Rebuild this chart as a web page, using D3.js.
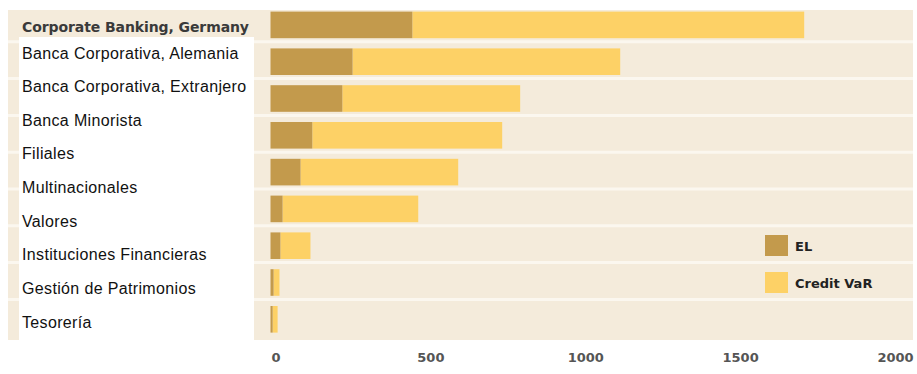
<!DOCTYPE html>
<html>
<head>
<meta charset="utf-8">
<script src="https://cdn.jsdelivr.net/npm/d3@7"></script>
<style>
  body { margin: 0; background: #fff; }
  svg { display: block; }
</style>
</head>
<body>
<svg id="canvas" width="917" height="374"></svg>
<script>
// bar rows (top to bottom), values in EUR m
let rows = [0, 1, 2, 3, 4, 5, 6, 7, 8]
let elValues = [458, 265, 232, 135, 97, 39, 32, 10, 7]
let varValues = [1265, 864, 574, 613, 509, 438, 97, 19, 16]
let seriesNames = ['EL', 'Credit VaR']
let titleLabel = 'Corporate Banking, Germany'
let labels = ['Banca Corporativa, Alemania', 'Banca Corporativa, Extranjero', 'Banca Minorista',
  'Filiales', 'Multinacionales', 'Valores', 'Instituciones Financieras',
  'Gestión de Patrimonios', 'Tesorería']
let tickValues = [0, 500, 1000, 1500, 2000]

let canvas = d3.select('#canvas')

let colors = { EL: '#c39a4c', 'Credit VaR': '#fdd166' }

let x = d3.scaleLinear().domain([0, 2000]).range([270.5, 890])
let y = d3.scaleBand().domain(rows).range([6.5, 337.7]).paddingInner(0).paddingOuter(0)

// beige panel
canvas.append('rect')
  .attr('x', 8).attr('y', 10).attr('width', 905).attr('height', 330)
  .attr('fill', '#f4ebdb')

// white separators between rows
canvas.selectAll('line.sep')
  .data(rows.slice(1))
  .enter()
  .append('line')
  .attr('class', 'sep')
  .attr('x1', 8).attr('x2', 913)
  .attr('y1', d => y(d) - 1.5).attr('y2', d => y(d) - 1.5)
  .attr('stroke', '#fbf7ef')
  .attr('stroke-width', 3)

let barH = 26.6
let barY = d => y(d) + (y.bandwidth() - barH) / 2

// Credit VaR stacked after EL
canvas.selectAll('rect.var')
  .data(rows)
  .enter()
  .append('rect')
  .attr('class', 'var')
  .attr('x', d => x(elValues[d]))
  .attr('y', barY)
  .attr('width', d => x(elValues[d] + varValues[d]) - x(elValues[d]))
  .attr('height', barH)
  .attr('fill', colors['Credit VaR'])

canvas.selectAll('rect.el')
  .data(rows)
  .enter()
  .append('rect')
  .attr('class', 'el')
  .attr('x', x(0))
  .attr('y', barY)
  .attr('width', d => x(elValues[d]) - x(0))
  .attr('height', barH)
  .attr('fill', colors.EL)

// original row label
canvas.append('text')
  .attr('x', 22).attr('y', 32)
  .attr('font-family', 'DejaVu Sans')
  .attr('font-size', 14)
  .attr('font-weight', 'bold')
  .attr('textLength', 227)
  .attr('fill', '#3a3a3a')
  .text(titleLabel)

// white label box
canvas.append('rect')
  .attr('x', 19).attr('y', 37).attr('width', 235).attr('height', 303)
  .attr('fill', '#fff')

let ly = d3.scalePoint().domain(labels).range([53, 322])

canvas.selectAll('text.lab')
  .data(labels)
  .enter()
  .append('text')
  .attr('class', 'lab')
  .attr('x', 22)
  .attr('y', d => ly(d))
  .attr('dy', '0.35em')
  .attr('font-family', 'Liberation Sans, Arial, sans-serif')
  .attr('font-size', 16)
  .attr('letter-spacing', 0.35)
  .attr('fill', '#111')
  .text(d => d)

// x axis
let axis = d3.axisBottom(x).tickValues(tickValues).tickSize(0).tickPadding(0)
  .tickFormat(d3.format('d'))
let g = canvas.append('g')
  .attr('transform', 'translate(5,353)')
  .call(axis)
g.select('.domain').remove()
g.selectAll('text')
  .attr('font-family', 'DejaVu Sans')
  .attr('font-size', 13)
  .attr('font-weight', 'bold')
  .attr('fill', '#555')

// legend
let legend = canvas.selectAll('g.leg')
  .data(seriesNames)
  .enter()
  .append('g')
  .attr('class', 'leg')
  .attr('transform', (d, i) => 'translate(765,' + (235 + i * 37) + ')')

legend.append('rect')
  .attr('width', 23).attr('height', 21)
  .attr('fill', d => colors[d])

legend.append('text')
  .attr('x', 30).attr('y', 11)
  .attr('dy', '0.35em')
  .attr('font-family', 'DejaVu Sans')
  .attr('font-size', 13)
  .attr('font-weight', 'bold')
  .attr('fill', '#222')
  .text(d => d)
</script>
</body>
</html>
